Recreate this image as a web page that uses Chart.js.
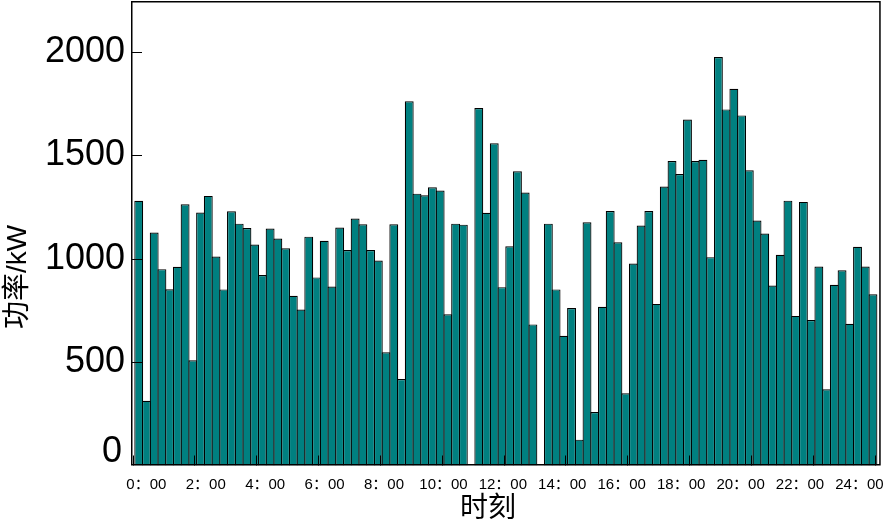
<!DOCTYPE html>
<html>
<head>
<meta charset="utf-8">
<script src="https://cdn.jsdelivr.net/npm/chart.js@4/dist/chart.umd.min.js"></script>
<style>
  html, body { margin: 0; padding: 0; background: #fff; }
  #wrap { width: 886px; height: 524px; }
</style>
</head>
<body>
<div id="wrap"><canvas id="grafico" width="886" height="524"></canvas></div>
<script>
// potencia cada 15 minutos, 96 intervalos (kW)
const power = [
  1279, 313, 1126, 949, 852, 960, 1263, 509, 1223, 1303,
  1010, 851, 1229, 1169, 1148, 1068, 921, 1145, 1097, 1050,
  820, 754, 1106, 909, 1086, 865, 1150, 1041, 1194, 1166,
  1041, 991, 547, 1166, 418, 1760, 1314, 1306, 1345, 1329,
  731, 1169, 1164, 0, 1728, 1221, 1557, 862, 1060, 1422,
  1319, 682, 0, 1169, 851, 627, 761, 125, 1176, 258,
  767, 1230, 1079, 349, 976, 1160, 1230, 781, 1348, 1472,
  1409, 1672, 1472, 1478, 1007, 1974, 1721, 1821, 1692, 1427,
  1184, 1121, 870, 1018, 1280, 723, 1274, 703, 962, 368,
  873, 944, 685, 1057, 962, 828
];

const timeLabels = ['0：00', '2：00', '4：00', '6：00', '8：00', '10：00', '12：00',
  '14：00', '16：00', '18：00', '20：00', '22：00', '24：00'];
// donde van las marcas y donde van los textos (en unidades de intervalo)
const tickAt = [0.2, 8.2, 16.2, 24.2, 32.2, 40.2, 48.2, 56.2, 64.2, 72.2, 80.2, 88.2, 96.2];
const labelAt = [1.98, 9.67, 17.36, 25.05, 32.74, 40.43, 48.11, 55.8, 63.49, 71.18, 78.87, 86.56, 94.25];
const yTicks = [0, 500, 1000, 1500, 2000];

const digitFont = "'Liberation Sans', Arial, 'Noto Sans CJK SC', sans-serif";

const ejesPlugin = {
  id: 'ejes',
  afterDraw(chart) {
    const { ctx, chartArea: a, scales: { x, y } } = chart;
    ctx.save();
    ctx.strokeStyle = '#000';
    ctx.lineWidth = 1;
    // marcas hacia dentro
    tickAt.forEach(v => {
      const px = Math.round(x.getPixelForValue(v)) + 0.5;
      ctx.beginPath(); ctx.moveTo(px, a.bottom); ctx.lineTo(px, a.bottom - 10); ctx.stroke();
    });
    yTicks.filter(v => v > 0).forEach(v => {
      const py = Math.round(y.getPixelForValue(v)) + 0.5;
      ctx.beginPath(); ctx.moveTo(a.left, py); ctx.lineTo(a.left + 11, py); ctx.stroke();
    });
    // marco
    ctx.lineWidth = 1.5;
    ctx.strokeRect(a.left + 0.75, a.top + 0.75, a.right - a.left - 1.5, a.bottom - a.top - 1.5);

    // el 0 va un poco mas arriba
    ctx.fillStyle = '#000';
    ctx.font = '36px ' + digitFont;
    ctx.textAlign = 'right';
    ctx.textBaseline = 'middle';
    ctx.fillText('0', a.left - 9, y.getPixelForValue(0) - 13);

    // titulos
    ctx.font = "28px 'Liberation Sans', 'Noto Sans CJK SC', sans-serif";
    ctx.textAlign = 'center';
    ctx.fillText('时刻', 488, 509);
    ctx.save();
    ctx.translate(18, 277);
    ctx.rotate(-Math.PI / 2);
    ctx.fillText('功率/kW', 0, 0);
    ctx.restore();
    ctx.restore();
  }
};

new Chart(document.getElementById('grafico'), {
  type: 'bar',
  data: {
    datasets: [{
      data: power.map((v, i) => ({ x: i + 1, y: v })),
      backgroundColor: '#008080',
      borderColor: '#000',
      borderWidth: 1.2,
      barPercentage: 1.15,
      categoryPercentage: 1
    }]
  },
  options: {
    responsive: false,
    animation: false,
    devicePixelRatio: 1,
    layout: { padding: { top: 1, right: 5.3, left: 0, bottom: 0 } },
    plugins: { legend: { display: false }, tooltip: { enabled: false } },
    scales: {
      x: {
        type: 'linear',
        offset: false,
        min: 0,
        max: 97,
        grid: { display: false, drawTicks: false, offset: false },
        border: { display: false },
        afterBuildTicks: s => { s.ticks = labelAt.map(v => ({ value: v })); },
        afterFit: s => { s.height = 58.5; s.paddingLeft = 0; s.paddingRight = 0; },
        ticks: {
          autoSkip: false,
          maxRotation: 0,
          padding: 10,
          color: '#000',
          font: { family: digitFont, size: 15 },
          callback: (v, i) => timeLabels[i]
        }
      },
      y: {
        min: 0,
        max: 2245,
        grid: { display: false, drawTicks: false },
        border: { display: false },
        afterBuildTicks: s => { s.ticks = yTicks.map(v => ({ value: v })); },
        afterFit: s => { s.width = 131; s.paddingTop = 0; s.paddingBottom = 0; },
        ticks: {
          padding: 6,
          color: '#000',
          font: { family: digitFont, size: 36 },
          callback: v => (v === 0 ? '' : v)
        }
      }
    }
  },
  plugins: [ejesPlugin]
});
</script>
</body>
</html>
